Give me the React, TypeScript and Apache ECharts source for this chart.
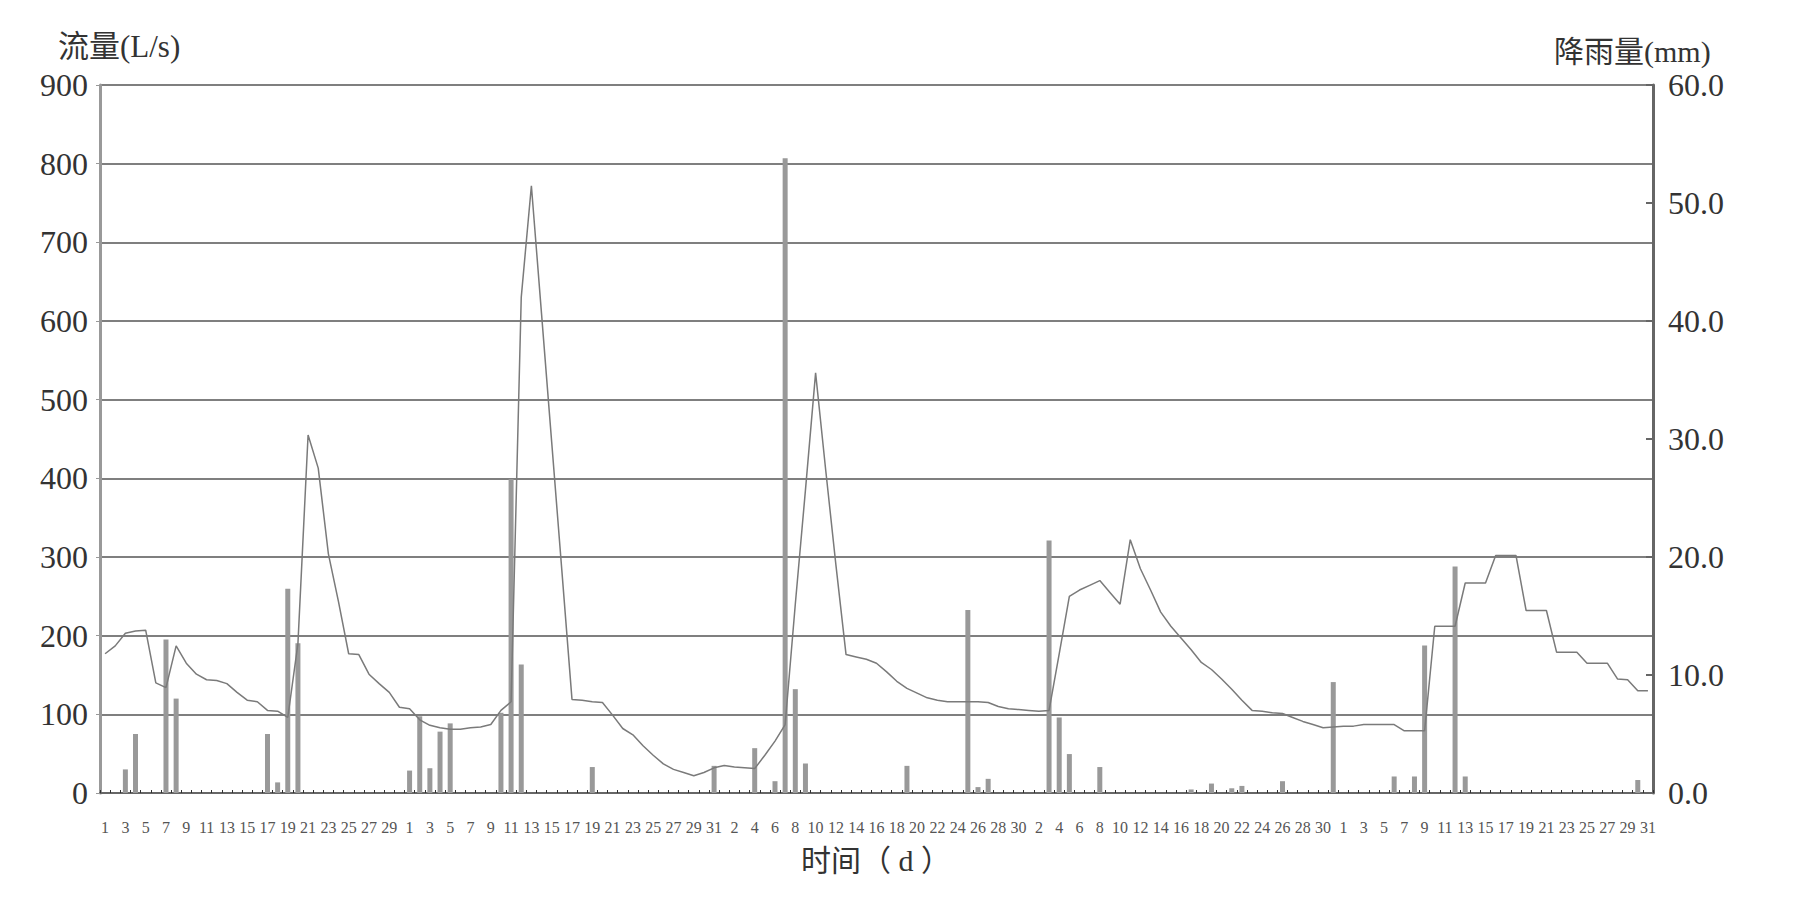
import React, { useEffect, useRef } from "react";
import * as echarts from "echarts";

// month lengths (Apr–Aug) -> daily category labels
const monthDays = [30, 31, 30, 31, 31];
const categories: string[] = monthDays.flatMap((n) =>
  Array.from({ length: n }, (_, d) => String(d + 1))
);

// daily flow (L/s)
const flowM1 = [177, 187, 203, 206, 207, 140, 134, 187, 165, 151, 144, 143, 139, 128, 118, 116, 105, 104, 96, 190, 455, 413, 304, 243, 177, 176, 151, 139, 128, 109];
const flowM2 = [107, 93, 86, 83, 81, 81, 83, 84, 87, 105, 116, 630, 772, 609, 446, 283, 119, 118, 116, 115, 99, 82, 74, 60, 48, 37, 30, 26, 22, 26, 32];
const flowM3 = [35, 33, 32, 31, 48, 66, 87, 240, 385, 534, 410, 290, 176, 173, 170, 165, 154, 142, 133, 127, 121, 118, 116, 116, 116, 116, 115, 110, 107, 106];
const flowM4 = [105, 104, 105, 177, 250, 258, 264, 270, 255, 240, 322, 285, 258, 230, 212, 197, 182, 166, 157, 145, 132, 118, 105, 104, 102, 101, 96, 91, 87, 83, 84];
const flowM5 = [85, 85, 87, 87, 87, 87, 79, 79, 79, 212, 212, 212, 267, 267, 267, 302, 302, 302, 232, 232, 232, 179, 179, 179, 165, 165, 165, 145, 144, 130, 130];

// daily rainfall (mm)
const rainM1 = [0, 0, 2.0, 5.0, 0, 0, 13.0, 8.0, 0, 0, 0, 0, 0, 0, 0, 0, 5.0, 0.9, 17.3, 12.7, 0, 0, 0, 0, 0, 0, 0, 0, 0, 0];
const rainM2 = [1.9, 6.5, 2.1, 5.2, 5.9, 0, 0, 0, 0, 6.8, 26.6, 10.9, 0, 0, 0, 0, 0, 0, 2.2, 0, 0, 0, 0, 0, 0, 0, 0, 0, 0, 0, 2.3];
const rainM3 = [0, 0, 0, 3.8, 0, 1.0, 53.8, 8.8, 2.5, 0, 0, 0, 0, 0, 0, 0, 0, 0, 2.3, 0, 0, 0, 0, 0, 15.5, 0.5, 1.2, 0, 0, 0];
const rainM4 = [0, 0, 21.4, 6.4, 3.3, 0, 0, 2.2, 0, 0, 0, 0, 0, 0, 0, 0, 0.3, 0, 0.8, 0, 0.4, 0.6, 0, 0, 0, 1.0, 0, 0, 0, 0, 9.4];
const rainM5 = [0, 0, 0, 0, 0, 1.4, 0, 1.4, 12.5, 0, 0, 19.2, 1.4, 0, 0, 0, 0, 0, 0, 0, 0, 0, 0, 0, 0, 0, 0, 0, 0, 1.1, 0];

const flow = [...flowM1, ...flowM2, ...flowM3, ...flowM4, ...flowM5];
const rain = [...rainM1, ...rainM2, ...rainM3, ...rainM4, ...rainM5];

const FONT = '"Liberation Serif", "Noto Sans CJK SC", serif';

export default function App() {
  const ref = useRef<HTMLDivElement>(null);
  useEffect(() => {
    if (!ref.current) return;
    const chart = echarts.init(ref.current, null, { renderer: "svg" });
    chart.setOption({
      animation: false,
      backgroundColor: "#ffffff",
      grid: { left: 100, right: 146, top: 85, bottom: 114, containLabel: false },
      graphic: [
        { type: "text", left: 58, top: 31, style: { text: "流量(L/s)", fontSize: 31, fontFamily: FONT, fill: "#333" } },
        { type: "text", left: 1554, top: 36, style: { text: "降雨量(mm)", fontSize: 30, fontFamily: FONT, fill: "#333" } },
        { type: "text", left: 801, top: 845, style: { text: "时间（ d ）", fontSize: 30, fontFamily: FONT, fill: "#333" } },
      ],
      xAxis: {
        type: "category",
        data: categories,
        boundaryGap: true,
        axisLine: { show: true, lineStyle: { color: "#666", width: 2 } },
        axisTick: { show: true, interval: 0, inside: true, length: 3, lineStyle: { color: "#333" } },
        axisLabel: { interval: 1, margin: 26, fontSize: 16, color: "#555", fontFamily: FONT },
        splitLine: { show: false },
      },
      yAxis: [
        {
          type: "value",
          min: 0,
          max: 900,
          interval: 100,
          position: "left",
          axisLine: { show: true, lineStyle: { color: "#999", width: 3 } },
          axisTick: { show: true, length: 4, lineStyle: { color: "#999" } },
          axisLabel: { margin: 12, fontSize: 32, color: "#333", fontFamily: FONT },
          splitLine: { show: true, lineStyle: { color: "#7f7f7f", width: 2 } },
        },
        {
          type: "value",
          min: 0,
          max: 60,
          interval: 10,
          position: "right",
          axisLine: { show: true, lineStyle: { color: "#666", width: 3 } },
          axisTick: { show: true, inside: true, length: 7, lineStyle: { color: "#666", width: 2 } },
          axisLabel: {
            margin: 15,
            fontSize: 32,
            color: "#333",
            fontFamily: FONT,
            formatter: (v: number) => v.toFixed(1),
          },
          splitLine: { show: false },
        },
      ],
      series: [
        {
          type: "bar",
          name: "降雨量",
          yAxisIndex: 1,
          data: rain,
          barWidth: 5,
          itemStyle: { color: "#999999" },
          z: 2,
        },
        {
          type: "line",
          name: "流量",
          yAxisIndex: 0,
          data: flow,
          symbol: "none",
          lineStyle: { color: "#7a7a7a", width: 1.5 },
          z: 3,
        },
      ],
    });
    return () => chart.dispose();
  }, []);
  return (
    <div
      ref={ref}
      style={{ position: "fixed", left: 0, top: 0, width: 1799, height: 907, background: "#fff" }}
    />
  );
}
